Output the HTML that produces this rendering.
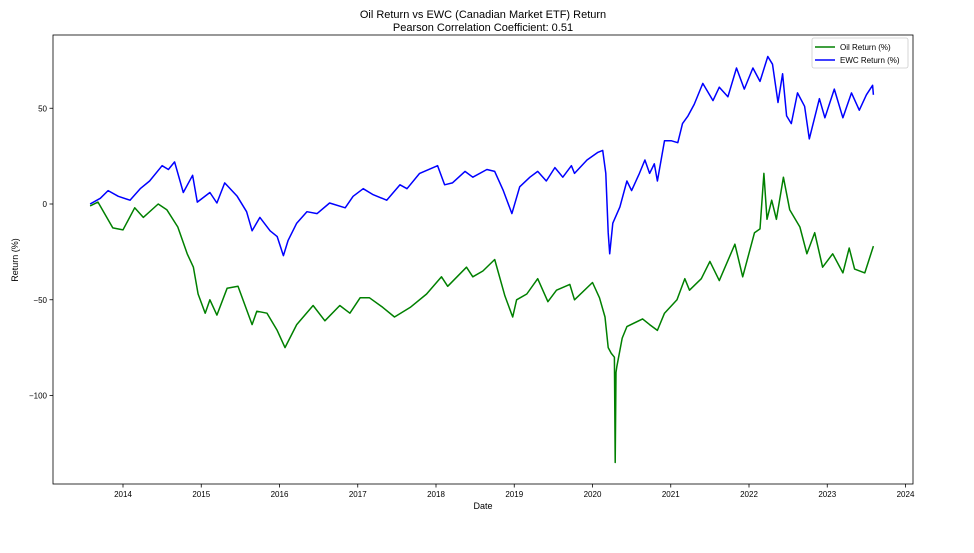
<!DOCTYPE html>
<html><head><meta charset="utf-8"><style>
body{margin:0;background:#fff;}
svg text{font-family:"Liberation Sans","DejaVu Sans",sans-serif;fill:#000;}
</style></head><body>
<svg id="chart" width="974" height="548" xmlns="http://www.w3.org/2000/svg">
<rect width="974" height="548" fill="#fff"/>
<text x="483" y="18" font-size="11" text-anchor="middle">Oil Return vs EWC (Canadian Market ETF) Return</text>
<text x="483" y="31" font-size="11" text-anchor="middle">Pearson Correlation Coefficient: 0.51</text>
<text x="483" y="509" font-size="9" text-anchor="middle">Date</text>
<text x="18" y="260" font-size="9" text-anchor="middle" transform="rotate(-90 18 260)">Return (%)</text>
<g id="plot"></g>
<rect x="53" y="35" width="860" height="449" fill="none" stroke="#000" stroke-width="0.8"/>
<g>
<rect x="812" y="38" width="96" height="30" rx="2" fill="#fff" stroke="#ccc" stroke-width="0.8"/>
<line x1="815" y1="47" x2="835" y2="47" stroke="green" stroke-width="1.5"/>
<text x="840" y="50" font-size="8">Oil Return (%)</text>
<line x1="815" y1="60" x2="835" y2="60" stroke="blue" stroke-width="1.5"/>
<text x="840" y="63" font-size="8">EWC Return (%)</text>
</g>
</svg>
<script>
const xTicks=[2014,2015,2016,2017,2018,2019,2020,2021,2022,2023,2024];
const yTicks=[50,0,-50,-100];
const oilDates=[2013.58,2013.68,2013.87,2014.0,2014.15,2014.26,2014.45,2014.56,2014.7,2014.82,2014.9,2014.96,2015.05,2015.11,2015.2,2015.33,2015.47,2015.65,2015.71,2015.84,2015.97,2016.07,2016.22,2016.43,2016.58,2016.77,2016.9,2017.03,2017.15,2017.32,2017.47,2017.67,2017.88,2018.07,2018.15,2018.39,2018.47,2018.6,2018.75,2018.88,2018.98,2019.03,2019.16,2019.3,2019.43,2019.54,2019.71,2019.77,2020.0,2020.09,2020.16,2020.2,2020.24,2020.28,2020.29,2020.3,2020.31,2020.38,2020.44,2020.64,2020.73,2020.83,2020.92,2021.08,2021.18,2021.24,2021.39,2021.5,2021.62,2021.82,2021.92,2022.07,2022.14,2022.19,2022.23,2022.29,2022.35,2022.44,2022.52,2022.65,2022.74,2022.84,2022.94,2023.07,2023.2,2023.28,2023.35,2023.48,2023.59];
const oilValues=[-1,1,-12.5,-13.5,-2,-7,0,-3,-12,-26,-33,-47,-57,-50,-58,-44,-43,-63,-56,-57,-66,-75,-63,-53,-61,-53,-57,-49,-49,-54,-59,-54,-47,-38,-43,-33,-38,-35,-29,-48,-59,-50,-47,-39,-51,-45,-42,-50,-41,-49,-59,-75,-78,-80,-135,-88,-85,-70,-64,-60,-63,-66,-57,-50,-39,-45,-39,-30,-40,-21,-38,-15,-13,16,-8,2,-8,14,-3,-12,-26,-15,-33,-26,-36,-23,-34,-36,-22];
const ewcDates=[2013.58,2013.71,2013.81,2013.94,2014.09,2014.22,2014.34,2014.5,2014.58,2014.66,2014.77,2014.89,2014.95,2015.11,2015.2,2015.3,2015.46,2015.58,2015.65,2015.75,2015.88,2015.97,2016.05,2016.11,2016.22,2016.35,2016.48,2016.64,2016.84,2016.94,2017.07,2017.19,2017.37,2017.54,2017.63,2017.79,2018.02,2018.11,2018.21,2018.37,2018.47,2018.65,2018.75,2018.86,2018.97,2019.07,2019.2,2019.3,2019.41,2019.52,2019.62,2019.73,2019.77,2019.93,2020.07,2020.13,2020.17,2020.2,2020.22,2020.26,2020.35,2020.44,2020.5,2020.6,2020.67,2020.73,2020.79,2020.83,2020.92,2021.01,2021.09,2021.15,2021.22,2021.3,2021.41,2021.54,2021.62,2021.73,2021.84,2021.94,2022.05,2022.14,2022.24,2022.3,2022.37,2022.43,2022.48,2022.54,2022.62,2022.71,2022.77,2022.9,2022.97,2023.09,2023.2,2023.31,2023.41,2023.5,2023.58,2023.59];
const ewcValues=[0,3,7,4,2,8,12,20,18,22,6,15,1,6,0.5,11,4,-4,-14,-7,-14,-17,-27,-19,-10,-4,-5,0.5,-2,4,8,5,2,10,8,16,20,10,11,17,14,18,17,7,-5,9,14,17,12,19,14,20,16,23,27,28,16,-15,-26,-10,-1.5,12,7,16,23,16,21,12,33,33,32,42,46,52,63,54,61,56,71,60,71,64,77,73,53,68,46,42,58,51,34,55,45,60,45,58,49,57,62,57];
const NS="http://www.w3.org/2000/svg";
const L=53,R=913;
function xScale(yr){return 123+(yr-2014)*78.25;}
function yScale(v){return 204-v*1.915;}
const svg=document.getElementById('chart');
const plot=document.getElementById('plot');
function mk(tag,attrs){const e=document.createElementNS(NS,tag);for(const k in attrs)e.setAttribute(k,attrs[k]);return e;}
xTicks.forEach(t=>{
  const x=xScale(t);
  const ln=mk('line',{x1:x,x2:x,y1:484,y2:487.5,stroke:'#000','stroke-width':0.8});
  
  
  svg.appendChild(ln);
  const tx=mk('text',{x:x,y:497,'font-size':8,'text-anchor':'middle'});
  tx.textContent=t;
  
  
  svg.appendChild(tx);
});
yTicks.forEach(t=>{
  const y=yScale(t);
  const ln=mk('line',{x1:49.5,x2:53,y1:y,y2:y,stroke:'#000','stroke-width':0.8});
  
  
  svg.appendChild(ln);
  const tx=mk('text',{x:47,y:y+3,'font-size':8,'text-anchor':'end'});
  tx.textContent=t<0?'\u2212'+Math.abs(t):String(t);
  
  
  svg.appendChild(tx);
});
function series(dates,vals,color,name){
  const d=dates.map((t,i)=>(i?'L':'M')+xScale(t).toFixed(1)+','+yScale(vals[i]).toFixed(1)).join(' ');
  const p=mk('path',{d:d,fill:'none',stroke:color,'stroke-width':1.5,'stroke-linejoin':'round'});
  
  
  plot.appendChild(p);
}
series(oilDates,oilValues,'green','oil-return-line');
series(ewcDates,ewcValues,'blue','ewc-return-line');
</script>
</body></html>
